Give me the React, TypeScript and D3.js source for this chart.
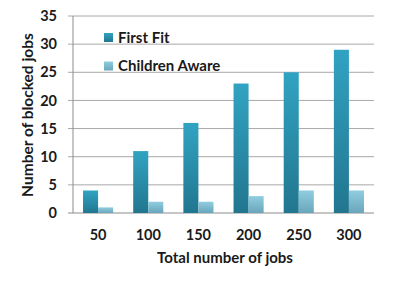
import React from 'react';
import * as d3 from 'd3';

const categories = ['50', '100', '150', '200', '250', '300'];
const firstFit = [4, 11, 16, 23, 25, 29];
const childrenAware = [1, 2, 2, 3, 4, 4];
const seriesNames = ['First Fit', 'Children Aware'];
const yTicks = [0, 5, 10, 15, 20, 25, 30, 35];

const W = 418;
const H = 285;
const m = { left: 73, right: 44, top: 16, bottom: 72 };
const font = 'Lato, "Open Sans", sans-serif';

const App = () => {
  const x = d3.scaleBand().domain(categories).range([m.left, W - m.right]).paddingInner(0.4).paddingOuter(0.2);
  const inner = d3.scaleBand().domain(seriesNames).range([0, x.bandwidth()]);
  const y = d3.scaleLinear().domain([0, 35]).range([H - m.bottom, m.top]);
  const series = [firstFit, childrenAware];
  const fills = ['url(#gFirst)', 'url(#gChild)'];

  return (
    <svg width={W} height={H} style={{ position: 'absolute', left: 0, top: 0 }}>
      <defs>
        <linearGradient id="gFirst" x1="0" y1="0" x2="0" y2="1">
          <stop offset="0" stopColor="#31a3c2" />
          <stop offset="1" stopColor="#22768f" />
        </linearGradient>
        <linearGradient id="gChild" x1="0" y1="0" x2="0" y2="1">
          <stop offset="0" stopColor="#90cde0" />
          <stop offset="1" stopColor="#6aa6bb" />
        </linearGradient>
      </defs>
      <rect width={W} height={H} fill="#fff" />
      {yTicks.map(t => (
        <g key={t}>
          <line x1={m.left - 5} x2={W - m.right} y1={y(t)} y2={y(t)} stroke={t === 0 ? '#8c8c8c' : '#a8a8a8'} strokeWidth={1} />
          <text x={m.left - 16} y={y(t)} dy="0.35em" textAnchor="end" fontFamily={font} fontWeight="bold" fontSize={14.5} fill="#1a1a1a">{t}</text>
        </g>
      ))}
      <line x1={m.left} x2={m.left} y1={y(35)} y2={y(0)} stroke="#8c8c8c" />
      {categories.map((c, i) => (
        <g key={c}>
          {series.map((s, j) => (
            <rect key={j}
              x={(x(c) as number) + (inner(seriesNames[j]) as number)}
              y={y(s[i])}
              width={inner.bandwidth()}
              height={y(0) - y(s[i])}
              fill={fills[j]} />
          ))}
          <text x={(x(c) as number) + x.bandwidth() / 2} y={240} textAnchor="middle" fontFamily={font} fontWeight="bold" fontSize={14.5} fill="#1a1a1a">{c}</text>
        </g>
      ))}
      {seriesNames.map((n, j) => (
        <g key={n} transform={`translate(104,${33 + j * 28.5})`}>
          <rect width={9} height={9} fill={fills[j]} />
          <text x={14} y={4.5} dy="0.35em" fontFamily={font} fontWeight="bold" fontSize={15} fill="#1a1a1a">{n}</text>
        </g>
      ))}
      <text x={225} y={263} textAnchor="middle" fontFamily={font} fontWeight="bold" fontSize={15} fill="#1a1a1a">Total number of jobs</text>
      <text transform="translate(33,115) rotate(-90)" textAnchor="middle" fontFamily={font} fontWeight="bold" fontSize={15.5} fill="#1a1a1a">Number of blocked jobs</text>
    </svg>
  );
};

export default App;
